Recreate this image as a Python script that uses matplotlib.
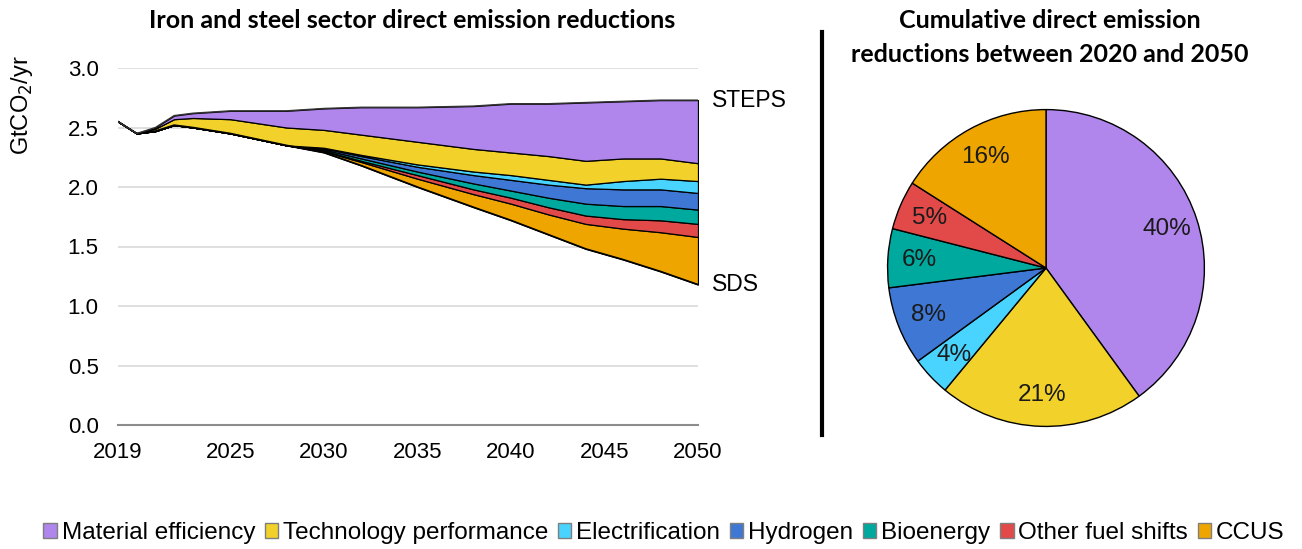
import matplotlib
matplotlib.use("Agg")
import matplotlib.pyplot as plt
from matplotlib.patches import Patch
import numpy as np

plt.rcParams["font.family"] = ["Liberation Sans", "DejaVu Sans"]

# data
years = [2019, 2020, 2021, 2022, 2023, 2025, 2028, 2030, 2032, 2035,
         2038, 2040, 2042, 2044, 2046, 2048, 2050]
sds = [2.55, 2.45, 2.47, 2.52, 2.50, 2.45, 2.35, 2.29, 2.18, 2.00,
       1.83, 1.72, 1.60, 1.48, 1.39, 1.29, 1.18]
# wedge thickness of each lever between SDS (bottom) and STEPS (top)
ccus = [0, 0, 0, 0, 0, 0, 0, 0.01, 0.03, 0.07,
        0.11, 0.14, 0.17, 0.21, 0.26, 0.33, 0.40]
other_fuel = [0, 0, 0, 0, 0, 0, 0, 0.005, 0.01, 0.03,
              0.04, 0.05, 0.06, 0.07, 0.08, 0.10, 0.11]
bioenergy = [0, 0, 0, 0, 0, 0, 0, 0.01, 0.02, 0.03,
             0.05, 0.06, 0.08, 0.10, 0.11, 0.12, 0.12]
hydrogen = [0, 0, 0, 0, 0, 0, 0, 0.01, 0.02, 0.04,
            0.07, 0.09, 0.11, 0.13, 0.14, 0.14, 0.14]
electrification = [0, 0, 0, 0, 0, 0, 0, 0.005, 0.01, 0.02,
                   0.03, 0.04, 0.04, 0.03, 0.07, 0.09, 0.10]
technology = [0, 0, 0.02, 0.05, 0.08, 0.12, 0.15, 0.15, 0.17, 0.19,
              0.19, 0.19, 0.20, 0.20, 0.19, 0.17, 0.15]
material = [0, 0, 0.01, 0.03, 0.04, 0.07, 0.14, 0.18, 0.23, 0.29,
            0.36, 0.41, 0.44, 0.49, 0.48, 0.49, 0.53]

levers = ["Material efficiency", "Technology performance", "Electrification",
          "Hydrogen", "Bioenergy", "Other fuel shifts", "CCUS"]
colors = ["#B085EC", "#F2D22A", "#48D4FF", "#3F78D4", "#00A99D",
          "#E24A4A", "#EFA500"]
pie_shares = [40, 21, 4, 8, 6, 5, 16]

xticks = [2019, 2025, 2030, 2035, 2040, 2045, 2050]
yticks = [0.0, 0.5, 1.0, 1.5, 2.0, 2.5, 3.0]

W, H = 1302, 549
fig = plt.figure(figsize=(W / 100, H / 100), dpi=100)

# ---- stacked wedge chart ----
ax = fig.add_axes([118 / W, 1 - 425 / H, 580 / W, 357 / H])
layers = [ccus, other_fuel, bioenergy, hydrogen, electrification,
          technology, material]
layer_colors = colors[::-1]
bottom = np.array(sds, dtype=float)
for vals, c in zip(layers, layer_colors):
    top = bottom + np.array(vals)
    ax.fill_between(years, bottom, top, facecolor=c, edgecolor="black",
                    linewidth=0.9, zorder=3)
    bottom = top
steps = bottom
ax.plot(years, sds, color="black", lw=1.2, zorder=4)
ax.plot(years, steps, color="#333333", lw=1.0, zorder=4)

ax.set_xlim(2019, 2050)
ax.set_ylim(0, 3.0)
ax.set_xticks(xticks)
ax.set_xticklabels([str(y) for y in xticks], fontsize=16)
ax.set_yticks(yticks)
ax.set_yticklabels(["%.1f" % v for v in yticks], fontsize=16)
ax.tick_params(length=0)
ax.tick_params(axis="y", pad=14)
ax.tick_params(axis="x", pad=12)
ax.grid(axis="y", color="#D9D9D9", lw=1.2)
ax.set_axisbelow(True)
for s in ["top", "right", "left"]:
    ax.spines[s].set_visible(False)
ax.spines["bottom"].set_color("#8C8C8C")
ax.spines["bottom"].set_linewidth(1.5)
ax.spines["bottom"].set_zorder(5)

ax.annotate("STEPS", (2050, steps[-1]), xytext=(10, 0),
            textcoords="offset points", va="center", fontsize=16.5)
ax.annotate("SDS", (2050, sds[-1]), xytext=(10, 0),
            textcoords="offset points", va="center", fontsize=16.5)

fig.text(22 / W, 1 - 105 / H, "GtCO$_2$/yr", rotation=90, fontsize=17,
         ha="center", va="center")
fig.text(412 / W, 1 - 20 / H, "Iron and steel sector direct emission reductions",
         fontsize=18, fontweight="bold", family="Lato", ha="center",
         va="center")

# divider
fig.add_artist(plt.Line2D([822 / W, 822 / W], [1 - 32 / H, 1 - 435 / H],
                          color="black", lw=3))

# ---- pie ----
pax = fig.add_axes([(1046 - 160) / W, 1 - (268 + 160) / H, 320 / W, 320 / H])
wedges, texts, autotexts = pax.pie(
    pie_shares, colors=colors, startangle=90, counterclock=False,
    autopct="%d%%", pctdistance=0.8,
    wedgeprops=dict(edgecolor="black", linewidth=1.0),
    textprops=dict(fontsize=17.5, color="#1a1a1a"))
pax.set_xlim(-1.01, 1.01)
pax.set_ylim(-1.01, 1.01)
fig.text(1050 / W, 1 - 20 / H, "Cumulative direct emission",
         fontsize=18, fontweight="bold", family="Lato", ha="center",
         va="center")
fig.text(1050 / W, 1 - 54 / H, "reductions between 2020 and 2050",
         fontsize=18, fontweight="bold", family="Lato", ha="center",
         va="center")

# ---- legend ----
handles = [Patch(facecolor=c, edgecolor="#7F7F7F", linewidth=1.0)
           for c in colors]
fig.legend(handles, levers, loc="center", bbox_to_anchor=(664 / W, 1 - 533 / H),
           ncol=7, frameon=False, fontsize=17.5, handlelength=0.55,
           handleheight=0.55, handletextpad=0.2, columnspacing=0.4,
           borderaxespad=0)

fig.savefig("out.png", dpi=100)
